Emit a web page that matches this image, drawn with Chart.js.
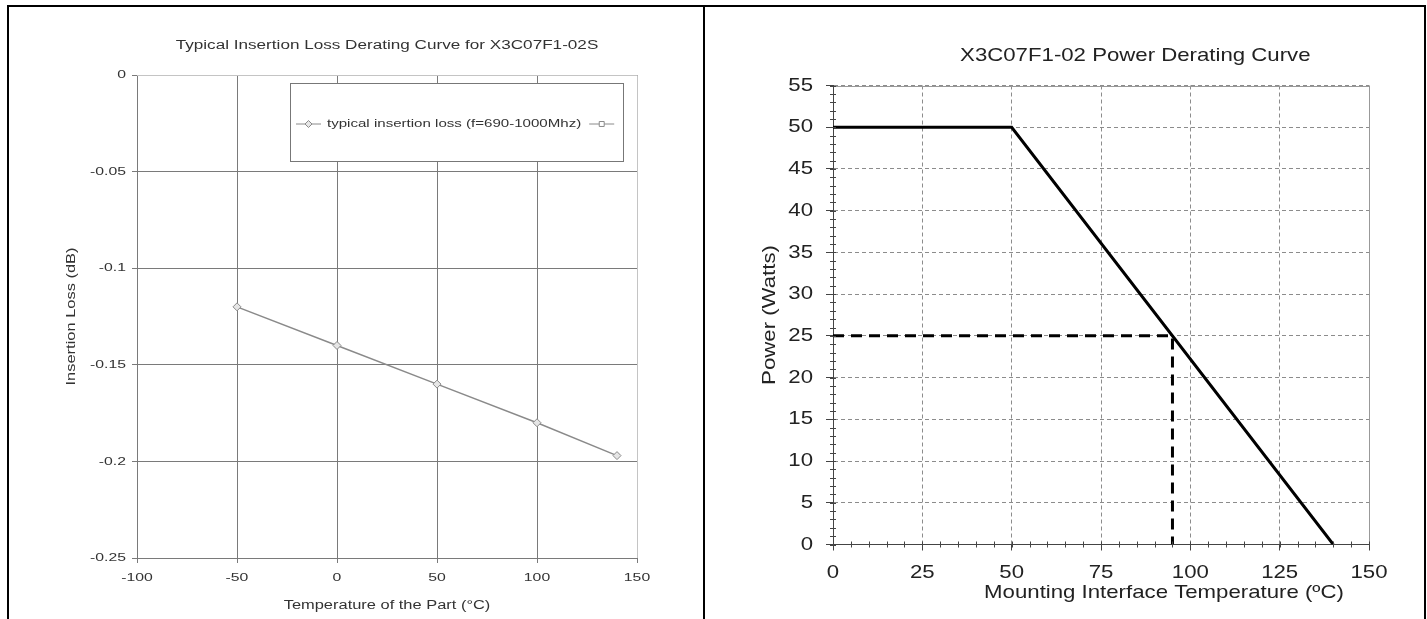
<!DOCTYPE html>
<html>
<head>
<meta charset="utf-8">
<script src="https://cdn.jsdelivr.net/npm/chart.js@4.4.0/dist/chart.umd.min.js"></script>
<style>
html, body { margin: 0; padding: 0; background: #fff; }
#page { position: relative; width: 1427px; height: 619px; overflow: hidden; }
#page canvas { position: absolute; top: 0; }
.rule { position: absolute; background: #000; }
</style>
</head>
<body>
<div id="page">
    <canvas id="lossChart" width="703" height="619" style="left:0"></canvas>
    <canvas id="powerChart" width="718" height="619" style="left:706px"></canvas>
    <div class="rule" style="left:7px;top:5px;width:1419px;height:2px"></div>
    <div class="rule" style="left:7px;top:5px;width:2px;height:614px"></div>
    <div class="rule" style="left:703px;top:5px;width:2px;height:614px"></div>
    <div class="rule" style="left:1424px;top:5px;width:2px;height:614px"></div>
</div>
<script>
// left chart: insertion loss vs temperature
var lossTemps = [-50, 0, 50, 100, 140]
var lossValues = [-0.12, -0.14, -0.16, -0.18, -0.197]
var lossXTicks = [-100, -50, 0, 50, 100, 150]
var lossYTicks = [-0.25, -0.2, -0.15, -0.1, -0.05, 0]
var lossLabel = 'typical insertion loss (f=690-1000Mhz)'

// right chart: power derating
var powerTemps = [0, 50, 140]
var powerValues = [50, 50, 0]
var exampleTemps = [0, 95, 95]
var exampleValues = [25, 25, 0]
var powerXTicks = [0, 25, 50, 75, 100, 125, 150]
var powerYTicks = [0, 5, 10, 15, 20, 25, 30, 35, 40, 45, 50, 55]

var FONT = "'Liberation Sans', Arial, sans-serif"

// the source pictures were stretched sideways, so the text is wider than normal
var LOSS_STRETCH = 1.37
var POWER_STRETCH = 1.2

function stretchText(ctx, sx) {
    var fill = ctx.fillText
    ctx.fillText = function (text, x, y) {
        this.save()
        this.translate(x, y)
        this.scale(sx, 1)
        fill.call(this, text, 0, 0)
        this.restore()
    }
}

function toPoints(xs, ys) {
    return xs.map(function (x, i) { return { x: x, y: ys[i] } })
}

function fixedTicks(list) {
    return function (scale) {
        scale.ticks = list.map(function (v) { return { value: v } })
    }
}

function fixedSize(size) {
    return function (scale) {
        if (scale.isHorizontal()) scale.height = size
        else scale.width = size
    }
}

// legend box drawn inside the plot area, like the spreadsheet chart
var insetLegend = {
    id: 'insetLegend',
    afterDraw: function (chart, args, opts) {
        var ctx = chart.ctx
        var area = chart.chartArea
        var x = area.left + opts.left
        var y = area.top + opts.top
        ctx.save()
        ctx.fillStyle = '#fff'
        ctx.fillRect(x, y, opts.width, opts.height)
        ctx.strokeStyle = '#777'
        ctx.lineWidth = 1
        ctx.strokeRect(x + 0.5, y + 0.5, opts.width, opts.height)
        var cy = y + opts.textY
        var cx = x + 6
        ctx.font = '11px ' + FONT
        ctx.textBaseline = 'middle'
        chart.data.datasets.forEach(function (ds) {
            ctx.strokeStyle = ds.borderColor
            ctx.fillStyle = ds.pointBackgroundColor
            ctx.lineWidth = 1
            ctx.beginPath()
            ctx.moveTo(cx, cy)
            ctx.lineTo(cx + 25, cy)
            ctx.stroke()
            Chart.helpers.drawPoint(ctx, { pointStyle: ds.pointStyle, radius: 3.5, borderWidth: 1, rotation: 0 }, cx + 12.5, cy)
            cx += 31
            if (ds.label) {
                ctx.fillStyle = '#333'
                ctx.fillText(ds.label, cx, cy)
                cx += ctx.measureText(ds.label).width * LOSS_STRETCH + 8
            }
        })
        ctx.restore()
    }
}

// top/right frame of the plot, plus minor tick marks on the axes
var plotFrame = {
    id: 'plotFrame',
    afterDraw: function (chart, args, opts) {
        var ctx = chart.ctx
        var a = chart.chartArea
        var xs = chart.scales.x
        var ys = chart.scales.y
        var i, p
        ctx.save()
        ctx.strokeStyle = opts.color
        ctx.lineWidth = 1
        ctx.beginPath()
        ctx.moveTo(a.left, Math.round(a.top) + 0.5)
        ctx.lineTo(Math.round(a.right) + 0.5, Math.round(a.top) + 0.5)
        ctx.lineTo(Math.round(a.right) + 0.5, a.bottom)
        ctx.stroke()
        if (opts.minorY) {
            ctx.strokeStyle = opts.tickColor
            ctx.beginPath()
            for (i = 0; ys.min + i * opts.minorY <= ys.max; i++) {
                p = Math.round(ys.getPixelForValue(ys.min + i * opts.minorY)) + 0.5
                ctx.moveTo(a.left - 3, p)
                ctx.lineTo(a.left + 3, p)
            }
            for (i = 0; xs.min + i * opts.minorX <= xs.max; i++) {
                p = Math.round(xs.getPixelForValue(xs.min + i * opts.minorX)) + 0.5
                ctx.moveTo(p, a.bottom - 3)
                ctx.lineTo(p, a.bottom + 3)
            }
            ctx.stroke()
        }
        ctx.restore()
    }
}

// titles that sit off-centre over the plot
var captions = {
    id: 'captions',
    afterDraw: function (chart, args, opts) {
        var ctx = chart.ctx
        var a = chart.chartArea
        ctx.save()
        ctx.fillStyle = opts.color
        ctx.textAlign = 'center'
        ctx.textBaseline = 'middle'
        opts.items.forEach(function (item) {
            ctx.font = item.size + 'px ' + FONT
            ctx.fillText(item.text, a.left + item.at * (a.right - a.left), item.y)
        })
        ctx.restore()
    }
}

var lossCanvas = document.getElementById('lossChart').getContext('2d')
stretchText(lossCanvas, LOSS_STRETCH)
var lossChart = new Chart(lossCanvas, {
    type: 'line',
    data: {
        datasets: [
            {
                label: lossLabel,
                data: toPoints(lossTemps, lossValues),
                borderColor: '#8a8a8a',
                borderWidth: 1.5,
                pointStyle: 'rectRot',
                pointRadius: 4,
                pointBorderWidth: 1,
                pointBorderColor: '#8a8a8a',
                pointBackgroundColor: '#e6e6e6',
                tension: 0
            },
            {
                label: '',
                data: [],
                borderColor: '#8a8a8a',
                pointStyle: 'rect',
                pointBackgroundColor: '#fff'
            }
        ]
    },
    options: {
        responsive: false,
        animation: false,
        layout: { padding: { left: 60, right: 66, top: 0, bottom: 2 } },
        plugins: {
            legend: { display: false },
            tooltip: { enabled: false },
            title: {
                display: true,
                fullSize: false,
                text: 'Typical Insertion Loss Derating Curve for X3C07F1-02S',
                color: '#333',
                font: { family: FONT, size: 12.5, weight: 'normal' },
                padding: { top: 38, bottom: 22 }
            },
            insetLegend: { left: 153, top: 8, width: 333, height: 78, textY: 41 },
            plotFrame: { color: '#c4c4c4' }
        },
        scales: {
            x: {
                type: 'linear',
                min: -100,
                max: 150,
                afterBuildTicks: fixedTicks(lossXTicks),
                afterFit: fixedSize(59),
                grid: { color: '#7a7a7a', tickLength: 5, tickColor: '#7a7a7a' },
                border: { color: '#7a7a7a' },
                ticks: { color: '#333', padding: 8, font: { family: FONT, size: 11.5 }, maxRotation: 0, autoSkip: false },
                title: { display: true, text: 'Temperature of the Part (°C)', color: '#333', font: { family: FONT, size: 12 }, padding: { top: 4, bottom: 4 } }
            },
            y: {
                type: 'linear',
                min: -0.25,
                max: 0,
                afterBuildTicks: fixedTicks(lossYTicks),
                afterFit: fixedSize(77),
                grid: { color: '#7a7a7a', tickLength: 5, tickColor: '#7a7a7a' },
                border: { color: '#7a7a7a' },
                ticks: {
                    color: '#333', padding: 6, autoSkip: false,
                    font: { family: FONT, size: 11.5 },
                    callback: function (v) { return String(v) }
                },
                title: { display: true, text: 'Insertion Loss (dB)', color: '#333', font: { family: FONT, size: 12 }, padding: { top: 4, bottom: 4 } }
            }
        }
    },
    plugins: [insetLegend, plotFrame]
})

var powerCanvas = document.getElementById('powerChart').getContext('2d')
stretchText(powerCanvas, POWER_STRETCH)
var powerChart = new Chart(powerCanvas, {
    type: 'line',
    data: {
        datasets: [
            {
                label: 'Power',
                data: toPoints(powerTemps, powerValues),
                borderColor: '#000',
                borderWidth: 3,
                pointRadius: 0,
                tension: 0
            },
            {
                label: 'Example',
                data: toPoints(exampleTemps, exampleValues),
                borderColor: '#000',
                borderWidth: 3,
                borderDash: [11, 7],
                pointRadius: 0,
                tension: 0
            }
        ]
    },
    options: {
        responsive: false,
        animation: false,
        layout: { padding: { left: 49, right: 55, top: 85.5, bottom: 12.2 } },
        plugins: {
            legend: { display: false },
            tooltip: { enabled: false },
            captions: {
                color: '#222',
                items: [
                    { text: 'X3C07F1-02 Power Derating Curve', size: 18.5, at: 0.564, y: 56 },
                    { text: 'Mounting Interface Temperature (ºC)', size: 18.5, at: 0.6175, y: 593 }
                ]
            },
            plotFrame: { color: '#999', tickColor: '#444', minorY: 1, minorX: 5 }
        },
        scales: {
            x: {
                type: 'linear',
                min: 0,
                max: 150,
                afterBuildTicks: fixedTicks(powerXTicks),
                afterFit: fixedSize(62.3),
                grid: { color: '#8c8c8c', tickLength: 6, tickColor: '#444' },
                border: { color: '#444', dash: [4, 3] },
                ticks: { color: '#222', padding: 11, font: { family: FONT, size: 18.5 }, maxRotation: 0, autoSkip: false }
            },
            y: {
                type: 'linear',
                min: 0,
                max: 55,
                afterBuildTicks: fixedTicks(powerYTicks),
                afterFit: fixedSize(78),
                grid: { color: '#8c8c8c', tickLength: 7, tickColor: '#444' },
                border: { color: '#444', dash: [4, 3] },
                ticks: { color: '#222', padding: 13, font: { family: FONT, size: 18.5 }, autoSkip: false },
                title: { display: true, text: 'Power (Watts)', color: '#222', font: { family: FONT, size: 18.5 }, padding: { top: 4, bottom: 4 } }
            }
        }
    },
    plugins: [plotFrame, captions]
})
</script>
</body>
</html>
